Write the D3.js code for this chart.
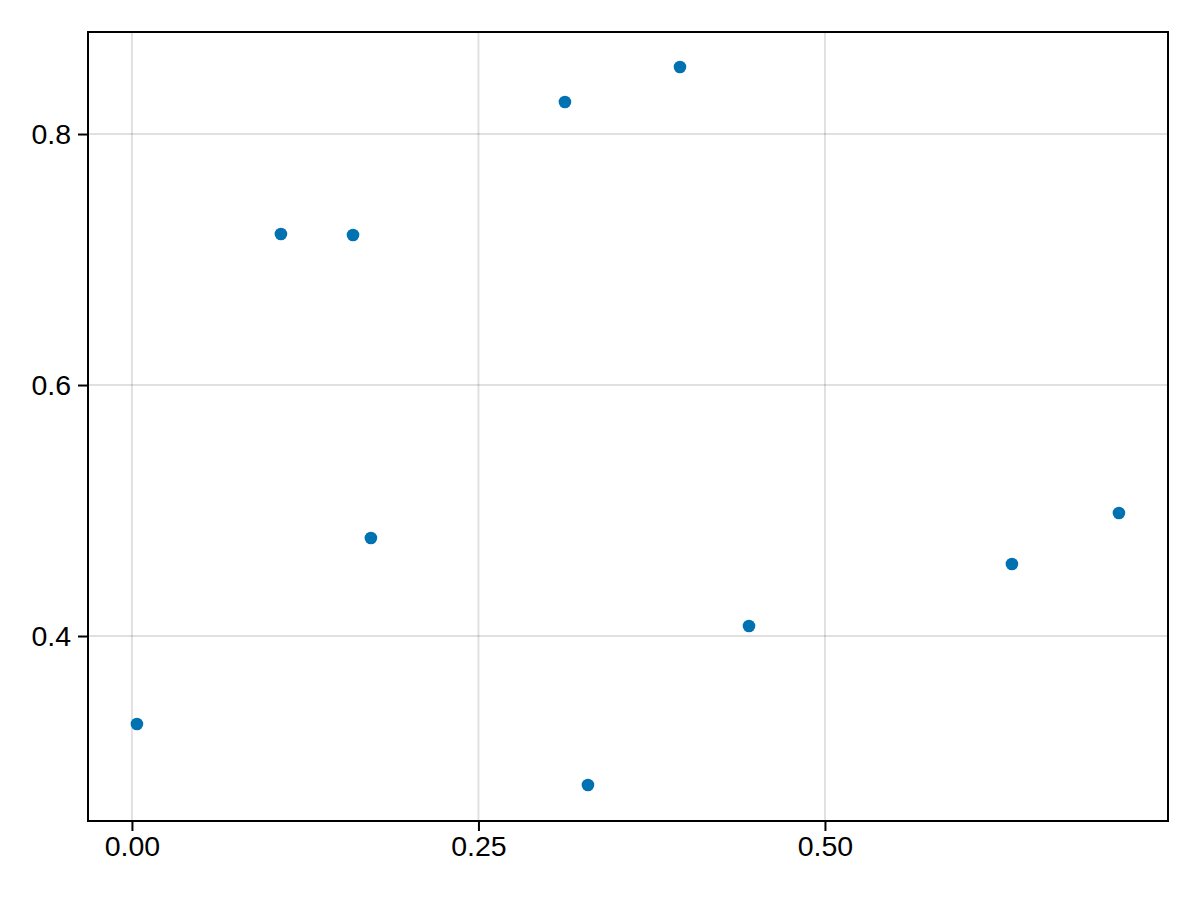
<!DOCTYPE html>
<html>
<head>
<meta charset="utf-8">
<script src="https://cdn.jsdelivr.net/npm/d3@7"></script>
<style>
  body { margin: 0; background: #fff; }
  .tick text { font-family: "Liberation Sans", Arial, sans-serif; font-size: 28.5px; fill: #000; }
</style>
</head>
<body>
<div id="plot"></div>
<script>
// data
var xs = [0.0036, 0.1075, 0.1595, 0.1724, 0.3124, 0.3290, 0.3954, 0.4452, 0.6349, 0.7121];
var ys = [0.3299, 0.7203, 0.7195, 0.4781, 0.8255, 0.2813, 0.8534, 0.4080, 0.4574, 0.4980];
var xTicks = [0, 0.25, 0.5];
var yTicks = [0.4, 0.6, 0.8];

var W = 1200, H = 900;
var margin = { top: 32, right: 32, bottom: 79, left: 88 },
  width = W - margin.left - margin.right,
  height = H - margin.top - margin.bottom;

var points = xs.map(function(x, i) { return { x: x, y: ys[i] }; });

var svg = d3.select("#plot").append("svg")
  .attr("width", W)
  .attr("height", H)
  .append("g")
  .attr("transform", "translate(" + margin.left + "," + margin.top + ")");

var xScale = d3.scaleLinear().domain([-0.0317, 0.7475]).range([0, width]);
var yScale = d3.scaleLinear().domain([0.2526, 0.8813]).range([height, 0]);

// grid
svg.append("g").selectAll("line")
  .data(xTicks).enter()
  .append("line")
  .attr("x1", function(d) { return xScale(d); })
  .attr("x2", function(d) { return xScale(d); })
  .attr("y1", 0).attr("y2", height)
  .style("stroke", "rgba(0,0,0,0.12)")
  .style("stroke-width", 2);

svg.append("g").selectAll("line")
  .data(yTicks).enter()
  .append("line")
  .attr("y1", function(d) { return yScale(d); })
  .attr("y2", function(d) { return yScale(d); })
  .attr("x1", 0).attr("x2", width)
  .style("stroke", "rgba(0,0,0,0.12)")
  .style("stroke-width", 2);

// axes
var xAxis = d3.axisBottom(xScale).tickValues(xTicks).tickFormat(d3.format(".2f"))
  .tickSize(10).tickPadding(5).tickSizeOuter(0);
var yAxis = d3.axisLeft(yScale).tickValues(yTicks).tickFormat(d3.format(".1f"))
  .tickSize(10).tickPadding(7).tickSizeOuter(0);

var gx = svg.append("g").attr("transform", "translate(0," + height + ")").call(xAxis);
var gy = svg.append("g").call(yAxis);
[gx, gy].forEach(function(g) {
  g.select(".domain").remove();
  g.selectAll(".tick line").style("stroke", "#000").style("stroke-width", 2);
  g.attr("font-family", null).attr("font-size", null);
});

// frame
svg.append("rect")
  .attr("width", width).attr("height", height)
  .style("fill", "none")
  .style("stroke", "#000")
  .style("stroke-width", 2);

// scatter
svg.append("g").selectAll("circle")
  .data(points).enter()
  .append("circle")
  .attr("cx", function(d) { return xScale(d.x); })
  .attr("cy", function(d) { return yScale(d.y); })
  .attr("r", 6.3)
  .style("fill", "#0072b2");
</script>
</body>
</html>
